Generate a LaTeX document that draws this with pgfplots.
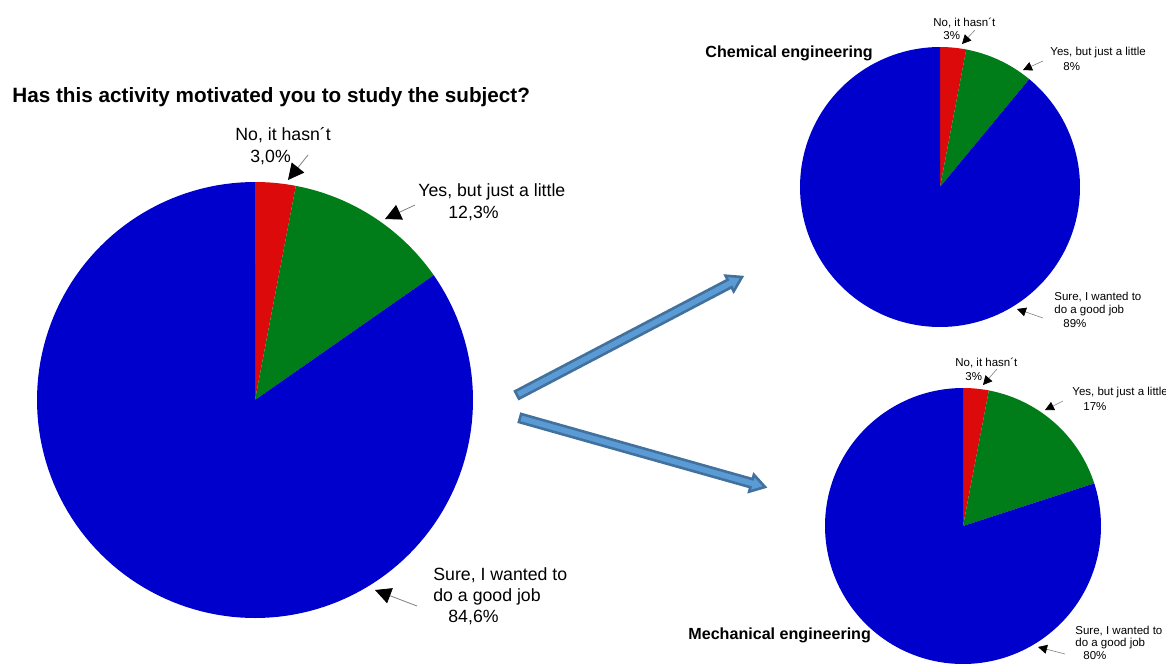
\documentclass[border=0pt]{standalone}
\usepackage{pgfplots}
\pgfplotsset{compat=1.18}
\usepackage{fontspec}
\setmainfont{Liberation Sans}
\usetikzlibrary{arrows.meta,calc}
\definecolor{pred}{RGB}{220,10,10}
\definecolor{pgreen}{RGB}{0,125,25}
\definecolor{pblue}{RGB}{0,0,205}
\definecolor{afill}{RGB}{91,155,213}
\definecolor{aline}{RGB}{65,113,156}
\newcommand\lab{\fontsize{8.85}{10}\selectfont}
\newcommand\sml{\fontsize{5.75}{7}\selectfont}
\newcommand\ttl{\fontsize{10.35}{12}\selectfont\bfseries}
\newcommand\sttl{\fontsize{8.05}{10}\selectfont\bfseries}
\begin{document}
\begin{tikzpicture}
\begin{axis}[width=583pt,height=332pt,scale only axis,hide axis,
  xmin=0,xmax=1166,ymin=0,ymax=664,y dir=reverse,clip=false]
% ---- Overall: No 3.0 %, Yes 12.3 %, Sure 84.6 % (angles = 3.6 * percent, clockwise from top)
\addplot[fill=pred,draw=none,domain=0:10.8,samples=20] ({255+218*sin(x)},{400-218*cos(x)}) -- (axis cs:255,400) -- cycle;
\addplot[fill=pgreen,draw=none,domain=10.8:55.08,samples=40] ({255+218*sin(x)},{400-218*cos(x)}) -- (axis cs:255,400) -- cycle;
\addplot[fill=pblue,draw=none,domain=55.08:360,samples=150] ({255+218*sin(x)},{400-218*cos(x)}) -- (axis cs:255,400) -- cycle;
% ---- Chemical engineering: No 3 %, Yes 8 %, Sure 89 %
\addplot[fill=pred,draw=none,domain=0:10.8,samples=20] ({940+140*sin(x)},{187-140*cos(x)}) -- (axis cs:940,187) -- cycle;
\addplot[fill=pgreen,draw=none,domain=10.8:39.6,samples=30] ({940+140*sin(x)},{187-140*cos(x)}) -- (axis cs:940,187) -- cycle;
\addplot[fill=pblue,draw=none,domain=39.6:360,samples=150] ({940+140*sin(x)},{187-140*cos(x)}) -- (axis cs:940,187) -- cycle;
% ---- Mechanical engineering: No 3 %, Yes 17 %, Sure 80 %
\addplot[fill=pred,draw=none,domain=0:10.8,samples=20] ({963+138*sin(x)},{526-138*cos(x)}) -- (axis cs:963,526) -- cycle;
\addplot[fill=pgreen,draw=none,domain=10.8:72,samples=40] ({963+138*sin(x)},{526-138*cos(x)}) -- (axis cs:963,526) -- cycle;
\addplot[fill=pblue,draw=none,domain=72:360,samples=150] ({963+138*sin(x)},{526-138*cos(x)}) -- (axis cs:963,526) -- cycle;

% titles
\node[anchor=west,inner sep=0,font=\ttl] at (axis cs:12,97) {Has this activity motivated you to study the subject?};
\node[anchor=west,inner sep=0,font=\sttl] at (axis cs:705,53) {Chemical engineering};
\node[anchor=west,inner sep=0,font=\sttl] at (axis cs:688,635) {Mechanical engineering};

% main labels
\node[anchor=west,inner sep=0,font=\lab] at (axis cs:235,135) {No, it hasn´t};
\node[anchor=west,inner sep=0,font=\lab] at (axis cs:250,157) {3,0\%};
\node[anchor=west,inner sep=0,font=\lab] at (axis cs:418,192) {Yes, but just a little};
\node[anchor=west,inner sep=0,font=\lab] at (axis cs:448,213) {12,3\%};
\node[anchor=west,inner sep=0,font=\lab] at (axis cs:433,575) {Sure, I wanted to};
\node[anchor=west,inner sep=0,font=\lab] at (axis cs:433,597) {do a good job};
\node[anchor=west,inner sep=0,font=\lab] at (axis cs:448,617) {84,6\%};
\draw[gray,line width=0.4pt,-{Triangle[black,length=8pt,width=8pt]}] (axis cs:308,155) -- (axis cs:288,180);
\draw[gray,line width=0.4pt,-{Triangle[black,length=8pt,width=8pt]}] (axis cs:415,205) -- (axis cs:385,219);
\draw[gray,line width=0.4pt,-{Triangle[black,length=8pt,width=8pt]}] (axis cs:417,606) -- (axis cs:375,590);

% chemical labels
\node[anchor=west,inner sep=0,font=\sml] at (axis cs:933,23) {No, it hasn´t};
\node[anchor=west,inner sep=0,font=\sml] at (axis cs:943,36) {3\%};
\node[anchor=west,inner sep=0,font=\sml] at (axis cs:1050,53) {Yes, but just a little};
\node[anchor=west,inner sep=0,font=\sml] at (axis cs:1063,67) {8\%};
\node[anchor=west,inner sep=0,font=\sml] at (axis cs:1054,297) {Sure, I wanted to};
\node[anchor=west,inner sep=0,font=\sml] at (axis cs:1054,311) {do a good job};
\node[anchor=west,inner sep=0,font=\sml] at (axis cs:1063,324) {89\%};
\draw[gray,line width=0.3pt,-{Triangle[black,length=4.5pt,width=4.5pt]}] (axis cs:975,30) -- (axis cs:962,44);
\draw[gray,line width=0.3pt,-{Triangle[black,length=4.5pt,width=4.5pt]}] (axis cs:1043,61) -- (axis cs:1023,70);
\draw[gray,line width=0.3pt,-{Triangle[black,length=4.5pt,width=4.5pt]}] (axis cs:1043,318) -- (axis cs:1017,309);

% mechanical labels
\node[anchor=west,inner sep=0,font=\sml] at (axis cs:955,363) {No, it hasn´t};
\node[anchor=west,inner sep=0,font=\sml] at (axis cs:965,377) {3\%};
\node[anchor=west,inner sep=0,font=\sml] at (axis cs:1072,393) {Yes, but just a little};
\node[anchor=west,inner sep=0,font=\sml] at (axis cs:1083,407) {17\%};
\node[anchor=west,inner sep=0,font=\sml] at (axis cs:1075,631) {Sure, I wanted to};
\node[anchor=west,inner sep=0,font=\sml] at (axis cs:1075,644) {do a good job};
\node[anchor=west,inner sep=0,font=\sml] at (axis cs:1083,656) {80\%};
\draw[gray,line width=0.3pt,-{Triangle[black,length=4.5pt,width=4.5pt]}] (axis cs:997,369) -- (axis cs:983,385);
\draw[gray,line width=0.3pt,-{Triangle[black,length=4.5pt,width=4.5pt]}] (axis cs:1063,401) -- (axis cs:1045,410);
\draw[gray,line width=0.3pt,-{Triangle[black,length=4.5pt,width=4.5pt]}] (axis cs:1065,654) -- (axis cs:1038,647);

\coordinate (A1) at (axis cs:517,395);
\coordinate (B1) at (axis cs:742,277);
\coordinate (A2) at (axis cs:520,418);
\coordinate (B2) at (axis cs:765,487);
\coordinate (P1) at (axis cs:0,0);
\coordinate (P2) at (axis cs:1166,664);
\end{axis}
\coordinate (H1) at ($(B1)!7pt!(A1)$);
\coordinate (H2) at ($(B2)!7pt!(A2)$);
\draw[aline,line width=1.3pt,fill=afill,line join=miter]
  ($(A1)!2.1pt!90:(B1)$) -- ($(H1)!2.1pt!-90:(A1)$) -- ($(H1)!4.4pt!-90:(A1)$) -- (B1)
  -- ($(H1)!4.4pt!90:(A1)$) -- ($(H1)!2.1pt!90:(A1)$) -- ($(A1)!2.1pt!-90:(B1)$) -- cycle;
\draw[aline,line width=1.3pt,fill=afill,line join=miter]
  ($(A2)!2.1pt!90:(B2)$) -- ($(H2)!2.1pt!-90:(A2)$) -- ($(H2)!4.4pt!-90:(A2)$) -- (B2)
  -- ($(H2)!4.4pt!90:(A2)$) -- ($(H2)!2.1pt!90:(A2)$) -- ($(A2)!2.1pt!-90:(B2)$) -- cycle;
\pgfresetboundingbox
\path[use as bounding box] (P1) rectangle (P2);
\end{tikzpicture}
\end{document}
